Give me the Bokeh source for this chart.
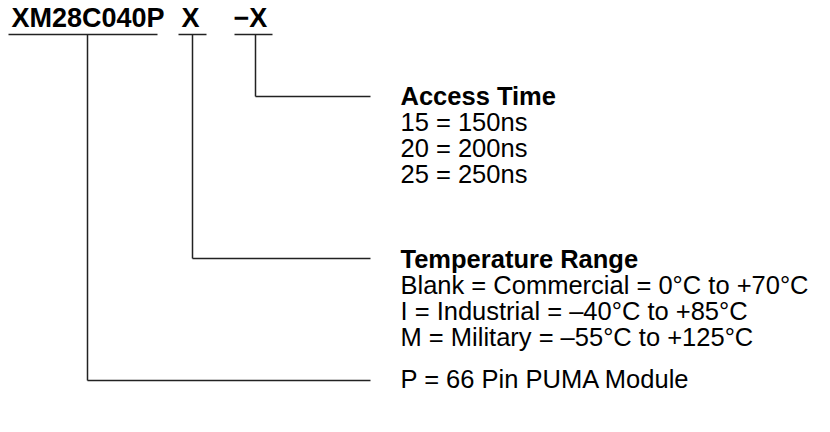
from bokeh.plotting import figure
from bokeh.models import Range1d
from bokeh.core.properties import value
from bokeh.embed import file_html
from bokeh.resources import INLINE

# Part number fields
part_fields = ["XM28C040P", "X", "\u2212X"]
field_x = [11, 181, 233]
field_y = 17

# Underlines under each field (x0, x1) at y
underline_x0 = [8, 178, 234]
underline_x1 = [157, 206, 272]
underline_y = 34

# Connector lines: vertical x, bottom y
conn_x = [87, 192, 255]
conn_y_end = [380, 258, 96]
conn_x_end = 370

# Description blocks
access_title = "Access Time"
access_items = ["15 = 150ns", "20 = 200ns", "25 = 250ns"]
temp_title = "Temperature Range"
temp_items = ["Blank = Commercial = 0\u00b0C to +70\u00b0C",
              "I = Industrial = \u201340\u00b0C to +85\u00b0C",
              "M = Military = \u201355\u00b0C to +125\u00b0C"]
package_item = "P = 66 Pin PUMA Module"

text_x = 400
access_base = 95
temp_base = 258
package_base = 378
line_step = 26

FONT = "Liberation Sans"
TITLE_SIZE = "27px"
FSIZE = "25.5px"
LINE_COLOR = "#222222"

p = figure(width=814, height=416, output_backend="svg", toolbar_location=None,
           x_range=Range1d(0, 814), y_range=Range1d(416, 0), min_border=0)
p.axis.visible = False
p.grid.visible = False
p.outline_line_color = None
p.background_fill_color = "white"
p.border_fill_color = "white"

# Part number
p.text(x=field_x, y=[field_y] * 3, text=part_fields, text_font=value(FONT),
       text_font_size=TITLE_SIZE, text_font_style="bold", text_baseline="alphabetic",
       text_color="black")

# Underlines
p.segment(x0=underline_x0, y0=[underline_y] * 3, x1=underline_x1, y1=[underline_y] * 3,
          line_color=LINE_COLOR, line_width=1.5)

# Connectors
p.segment(x0=conn_x, y0=[underline_y] * 3, x1=conn_x, y1=conn_y_end,
          line_color=LINE_COLOR, line_width=1.5)
p.segment(x0=conn_x, y0=conn_y_end, x1=[conn_x_end] * 3, y1=conn_y_end,
          line_color=LINE_COLOR, line_width=1.5)

# Titles (bold)
p.text(x=[text_x, text_x], y=[access_base, temp_base], text=[access_title, temp_title],
       text_font=value(FONT), text_font_size=FSIZE, text_font_style="bold",
       text_baseline="alphabetic", text_color="black")

# Items
items = access_items + temp_items + [package_item]
ys = [access_base + line_step * (i + 1) for i in range(len(access_items))] + \
     [temp_base + line_step * (i + 1) for i in range(len(temp_items))] + [package_base]
p.text(x=[text_x] * len(items), y=ys, text=items, text_font=value(FONT),
       text_font_size=FSIZE, text_baseline="alphabetic", text_color="black")

open("out.html", "w").write(file_html(p, INLINE))
